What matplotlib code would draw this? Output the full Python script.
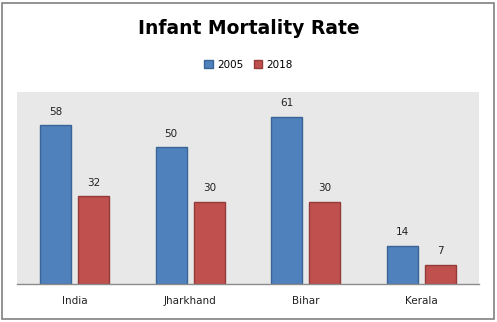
import matplotlib.pyplot as plt
import numpy as np
from matplotlib.patches import Rectangle

states = ['India', 'Jharkhand', 'Bihar', 'Kerala']
years = ['2005', '2018']
imr_2005 = [58, 50, 61, 14]
imr_2018 = [32, 30, 30, 7]

W, H = 497, 322
fig = plt.figure(figsize=(W / 100, H / 100), dpi=100)

# plot area in pixel coords
left, right, top, bottom = 17, 479, 92, 284
ax = fig.add_axes([left / W, 1 - bottom / H, (right - left) / W, (bottom - top) / H])
ax.set_facecolor('#e8e8e8')

x = np.arange(len(states))
bw = 0.27
off = 0.165
b1 = ax.bar(x - off, imr_2005, bw, color='#4f81bd', edgecolor='#3a6496', linewidth=1, label=years[0])
b2 = ax.bar(x + off, imr_2018, bw, color='#c0504d', edgecolor='#943b39', linewidth=1, label=years[1])

for bars, vals in ((b1, imr_2005), (b2, imr_2018)):
    for b, v in zip(bars, vals):
        ax.annotate(str(v), (b.get_x() + b.get_width() / 2, v), xytext=(0, 6),
                    textcoords='offset points', ha='center', va='bottom',
                    fontsize=7.5, color='#222222')

ax.set_xlim(-0.5, len(states) - 0.5)
ax.set_ylim(0, 70)
ax.set_yticks([])
ax.set_xticks(x)
ax.set_xticklabels(states, fontsize=7.5, color='#222222')
ax.tick_params(axis='x', length=0, pad=9)
for s in ['top', 'left', 'right']:
    ax.spines[s].set_visible(False)
ax.spines['bottom'].set_color('#8c8c8c')
ax.spines['bottom'].set_linewidth(1)

fig.text(0.5, 1 - 28 / H, 'Infant Mortality Rate', ha='center', va='center',
         fontsize=13.5, fontweight='bold')
fig.legend(handles=[b1, b2], loc='center', bbox_to_anchor=(0.5, 1 - 65 / H), ncol=2,
           frameon=False, fontsize=7.5, handlelength=0.8, handleheight=0.8,
           handletextpad=0.4, columnspacing=1.0)

# outer chart border
fig.patches.append(Rectangle((2 / W, 3 / H), (W - 5) / W, (H - 6) / H,
                             transform=fig.transFigure, fill=False,
                             edgecolor='#808080', linewidth=1.2))

fig.savefig('out.png', dpi=100)
